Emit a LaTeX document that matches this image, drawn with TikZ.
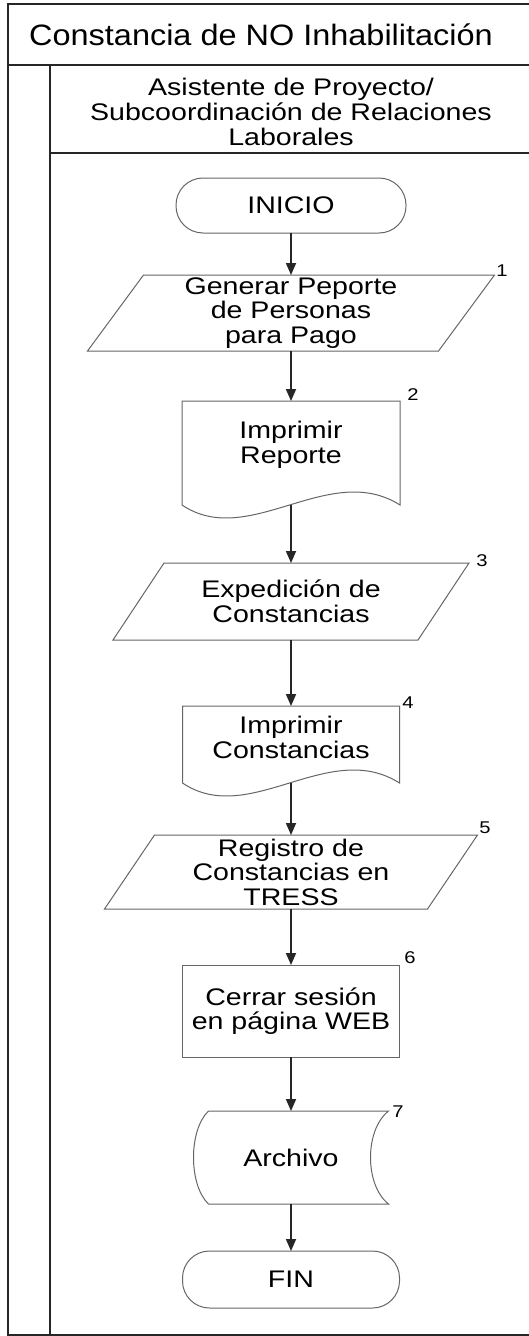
\documentclass[tikz,border=0pt]{standalone}
\usepackage{fontspec}
\setmainfont[FakeStretch=1.19]{Liberation Sans}
\newfontfamily\titlefont[FakeStretch=1.1]{Liberation Sans}
\usetikzlibrary{arrows.meta,calc}
\newcommand\flowtxt[3]{\parbox[c][#2][c]{#1}{\centering #3\par}}
\begin{document}
\begin{tikzpicture}[x=1pt,y=-1pt,
  frame/.style={line width=2pt,draw=black!85},
  shp/.style={draw=black!60,line width=1pt},
  box/.style={draw=none,inner sep=0pt,outer sep=0pt,align=center,font=\fontsize{24}{24.5}\selectfont},
  term/.style={box,shp,rounded corners=27pt},
  num/.style={font=\fontsize{17}{17}\selectfont,inner sep=0pt},
  flow/.style={line width=1.8pt,draw=black!85,-{Triangle[width=10pt,length=12pt]}}
]
\useasboundingbox (0,0) rectangle (529,1336);
\fill[white] (0,0) rectangle (529,1336);
% frame
\draw[frame] (529,3.5) -- (7.5,3.5) -- (7.5,1334.5) -- (529,1334.5);
\draw[frame] (7.5,65) -- (529,65);
\draw[frame] (50,65) -- (50,1334.5);
\draw[frame] (50,153) -- (529,153);
\node[inner sep=0pt,font=\titlefont\fontsize{29.5}{31}\selectfont] (title) at (261,35) {Constancia de NO Inhabilitación};
\node[box,font=\fontsize{24}{25}\selectfont] (lane) at (291,112) {Asistente de Proyecto/\\Subcoordinación de Relaciones\\Laborales};

% nodes
\node[term] (ini) at (291,205.5) {\flowtxt{230pt}{55pt}{INICIO}};

\node[box] (p1) at (291,313) {\flowtxt{351pt}{76pt}{Generar Peporte\\de Personas\\para Pago}};
\draw[shp] ([xshift=-28pt]p1.south west) -- ([xshift=28pt]p1.north west) -- ([xshift=28pt]p1.north east) -- ([xshift=-28pt]p1.south east) -- cycle;
\node[num] (n1) at (502,271) {1};

\node[box] (d2) at (291,453) {\flowtxt{218pt}{104pt}{Imprimir\\Reporte\par\vspace{16pt}}};
\draw[shp] (d2.south west) -- (d2.north west) -- (d2.north east) -- (d2.south east) .. controls +(-71,-45) and +(67,45) .. (d2.south west);
\node[num] (n2) at (413,395) {2};

\node[box] (p3) at (291,601.5) {\flowtxt{305pt}{77pt}{Expedición de\\Constancias}};
\draw[shp] ([xshift=-25.5pt]p3.south west) -- ([xshift=25.5pt]p3.north west) -- ([xshift=25.5pt]p3.north east) -- ([xshift=-25.5pt]p3.south east) -- cycle;
\node[num] (n3) at (482,561) {3};

\node[box] (d4) at (291,744.5) {\flowtxt{217pt}{77pt}{Imprimir\\Constancias\par\vspace{14pt}}};
\draw[shp] (d4.south west) -- (d4.north west) -- (d4.north east) -- (d4.south east) .. controls +(-71,-45) and +(67,45) .. (d4.south west);
\node[num] (n4) at (408,703) {4};

\node[box] (p5) at (291,872) {\flowtxt{323pt}{74pt}{Registro de\\Constancias en\\TRESS}};
\draw[shp] ([xshift=-25pt]p5.south west) -- ([xshift=25pt]p5.north west) -- ([xshift=25pt]p5.north east) -- ([xshift=-25pt]p5.south east) -- cycle;
\node[num] (n5) at (485,828) {5};

\node[box,shp] (p6) at (291,1011) {\flowtxt{217pt}{92pt}{Cerrar sesión\\en página WEB}};
\node[num] (n6) at (410,958) {6};

\node[box] (a7) at (291,1157.5) {\flowtxt{195pt}{93pt}{Archivo}};
\draw[shp] ([xshift=15pt]a7.north west) -- (a7.north east) .. controls +(-24,19) and +(-24,-19) .. (a7.south east) -- ([xshift=15pt]a7.south west) .. controls +(-20,-19) and +(-20,19) .. ([xshift=15pt]a7.north west);
\node[num] (n7) at (398,1112) {7};

\node[term] (fin) at (291,1279.5) {\flowtxt{217pt}{57pt}{FIN}};

% connectors
\draw[flow] (ini) -- (p1);
\draw[flow] (p1) -- (d2);
\draw[flow] (d2.south) -- (p3.north);
\draw[flow] (p3) -- (d4);
\draw[flow] (d4.south) -- (p5.north);
\draw[flow] (p5) -- (p6);
\draw[flow] (p6) -- (a7);
\draw[flow] (a7) -- (fin);
\end{tikzpicture}
\end{document}
